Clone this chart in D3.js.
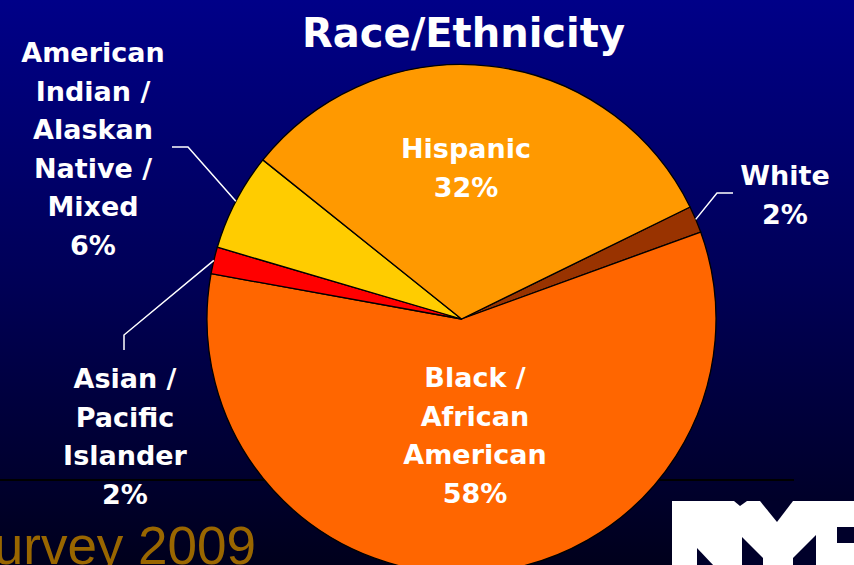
<!DOCTYPE html>
<html>
<head>
<meta charset="utf-8">
<script src="https://cdn.jsdelivr.net/npm/d3@7"></script>
<style>
  body { margin: 0; background: #000; }
  svg { display: block; }
</style>
</head>
<body>
<div class="pie-chart"></div>
<script>
// values (labels are rounded)
const categories = ['White', 'Black / African American', 'Asian / Pacific Islander', 'American Indian / Alaskan Native / Mixed', 'Hispanic'];
const values = [1.7, 58.4, 1.7, 6.2, 32.0];
const pctLabels = ['2%', '58%', '2%', '6%', '32%'];
const labelLines = [
    ['White'],
    ['Black /', 'African', 'American'],
    ['Asian /', 'Pacific', 'Islander'],
    ['American', 'Indian /', 'Alaskan', 'Native /', 'Mixed'],
    ['Hispanic']
];
const sliceColors = ['#993300', '#ff6600', '#ff0000', '#ffcc00', '#ff9900'];

(function() {
var width = 854, height = 565,
    cx = 461.5, cy = 319, radius = 254.5;

var svg = d3.select('.pie-chart').append('svg')
    .attr('width', width)
    .attr('height', height);

// background gradient navy -> almost black
var grad = svg.append('defs').append('linearGradient')
    .attr('id', 'bg').attr('x1', 0).attr('y1', 0).attr('x2', 0).attr('y2', 1);
grad.append('stop').attr('offset', '0%').attr('stop-color', '#000088');
grad.append('stop').attr('offset', '50%').attr('stop-color', '#000056');
grad.append('stop').attr('offset', '100%').attr('stop-color', '#00001c');
svg.append('rect').attr('width', width).attr('height', height).attr('fill', 'url(#bg)');

// slide rule + footer text (runs off the left edge on the slide)
svg.append('line')
    .attr('x1', 0).attr('x2', 794).attr('y1', 480).attr('y2', 480)
    .attr('stroke', '#000').attr('stroke-width', 2);

svg.append('text')
    .attr('x', 256).attr('y', 564)
    .attr('text-anchor', 'end')
    .style('font-family', '"Liberation Sans", Arial, sans-serif')
    .style('font-size', '53px')
    .style('fill', '#996600')
    .text('Survey 2009');

// NYC logo (partly off the slide)
var logo = svg.append('g');
logo.append('rect').attr('x', 672).attr('y', 501).attr('width', 200).attr('height', 80).attr('fill', '#fff');
var cutouts = [
    [[734, 501], [747, 501], [740, 506]],
    [[760, 501], [793, 501], [777, 522]],
    [[697, 548], [697, 566], [714, 566]],
    [[742, 537], [763, 558], [763, 566], [742, 566]],
    [[793, 558], [816, 535], [816, 566], [793, 566]],
    [[837, 527], [855, 527], [855, 543], [837, 543]]
];
logo.selectAll('path').data(cutouts).enter().append('path')
    .attr('d', (d) => d3.line()(d) + 'Z')
    .attr('fill', '#00002a');

// pie
var pie = d3.pie().sort(null).value((d) => d)
    .startAngle(63.9 * Math.PI / 180)
    .endAngle((63.9 + 360) * Math.PI / 180);
var arc = d3.arc().innerRadius(0).outerRadius(radius);
var arcs = pie(values);

var g = svg.append('g').attr('transform', 'translate(' + cx + ',' + cy + ')');
g.selectAll('.slice')
    .data(arcs)
    .enter().append('path')
    .attr('class', 'slice')
    .attr('d', arc)
    .attr('fill', (d, i) => sliceColors[i])
    .attr('stroke', '#000')
    .attr('stroke-width', 1.3)
    .attr('stroke-linejoin', 'round');

// label layout: center x, first baseline
var labelPos = [
    { x: 785, y: 185 },
    { x: 475, y: 387 },
    { x: 125, y: 388 },
    { x: 93, y: 62 },
    { x: 466, y: 158 }
];
var lineH = 38.5;

function edgePoint(d) {
    var a = (d.startAngle + d.endAngle) / 2;
    return [cx + radius * Math.sin(a), cy - radius * Math.cos(a)];
}

// leader lines for the thin slices
var leaders = [
    { i: 0, pts: [[717, 193], [733, 193]] },
    { i: 2, pts: [[124, 335], [124, 350]] },
    { i: 3, pts: [[188, 147], [172, 147]] }
];
svg.selectAll('.leader')
    .data(leaders)
    .enter().append('path')
    .attr('class', 'leader')
    .attr('d', (d) => d3.line()([edgePoint(arcs[d.i])].concat(d.pts)))
    .attr('fill', 'none')
    .attr('stroke', '#fff')
    .attr('stroke-width', 1.5);

var labels = svg.selectAll('.label')
    .data(arcs)
    .enter().append('text')
    .attr('class', 'label')
    .attr('text-anchor', 'middle')
    .style('font-family', '"DejaVu Sans", Verdana, sans-serif')
    .style('font-weight', 'bold')
    .style('font-size', '27px')
    .style('fill', '#fff');

labels.each(function(d, i) {
    var lines = labelLines[i].concat([pctLabels[i]]);
    d3.select(this).selectAll('tspan')
        .data(lines)
        .enter().append('tspan')
        .attr('x', labelPos[i].x)
        .attr('y', (t, k) => labelPos[i].y + k * lineH)
        .text((t) => t);
});

svg.append('text')
    .attr('x', 463.5).attr('y', 47)
    .attr('text-anchor', 'middle')
    .style('font-family', '"DejaVu Sans", Verdana, sans-serif')
    .style('font-weight', 'bold')
    .style('font-size', '40px')
    .style('fill', '#fff')
    .text('Race/Ethnicity');
}())
</script>
</body>
</html>
